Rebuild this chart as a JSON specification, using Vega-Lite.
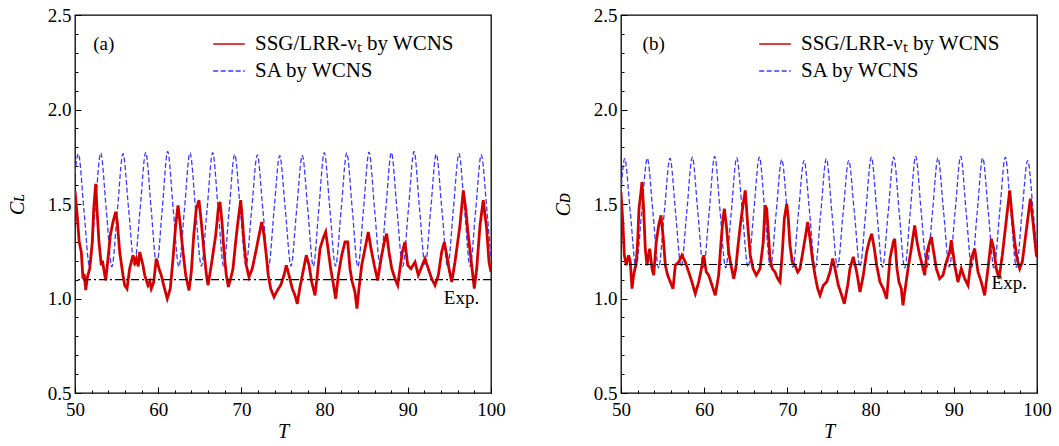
{
  "$schema": "https://vega.github.io/schema/vega-lite/v6.json",
  "background": "white",
  "padding": {"left": 6, "top": 5, "right": 5, "bottom": 0},
  "bounds": "flush",
  "spacing": 130,
  "config": {
    "view": {"stroke": "black", "strokeWidth": 1.3},
    "font": "Liberation Serif",
    "axis": {
      "domain": false, "grid": false, "tickColor": "black", "tickWidth": 1,
      "labelFont": "Liberation Serif", "labelFontSize": 19, "labelColor": "black",
      "titleFont": "Liberation Serif", "titleFontSize": 20, "titleFontWeight": "normal", "titleFontStyle": "italic", "titleColor": "black",
      "labelOverlap": false, "labelFlush": false
    },
    "legend": {
      "orient": "none", "legendX": 137, "legendY": 12, "title": null,
      "labelFont": "Liberation Serif", "labelFontSize": 21, "labelColor": "black", "labelLimit": 0,
      "symbolType": "stroke", "symbolSize": 1000, "symbolStrokeWidth": 1.5, "rowPadding": -12, "labelOffset": 9
    }
  },
  "resolve": {"legend": {"color": "independent", "strokeDash": "independent"}},
  "datasets": {
    "a_blue": [
      {"T":50.0,"C":1.66},{"T":50.40,"C":1.766},{"T":51.07,"C":1.47},{"T":51.75,"C":1.172},{"T":52.42,"C":1.47},
      {"T":53.09,"C":1.770},{"T":53.76,"C":1.47},{"T":54.43,"C":1.168},{"T":55.10,"C":1.47},
      {"T":55.77,"C":1.766},{"T":56.45,"C":1.47},{"T":57.14,"C":1.175},{"T":57.82,"C":1.47},
      {"T":58.50,"C":1.773},{"T":59.16,"C":1.47},{"T":59.82,"C":1.172},{"T":60.48,"C":1.47},
      {"T":61.14,"C":1.778},{"T":61.81,"C":1.47},{"T":62.48,"C":1.168},{"T":63.15,"C":1.47},
      {"T":63.82,"C":1.770},{"T":64.50,"C":1.47},{"T":65.19,"C":1.172},{"T":65.87,"C":1.47},
      {"T":66.55,"C":1.772},{"T":67.21,"C":1.47},{"T":67.87,"C":1.170},{"T":68.53,"C":1.47},
      {"T":69.19,"C":1.762},{"T":69.87,"C":1.47},{"T":70.55,"C":1.175},{"T":71.23,"C":1.47},
      {"T":71.91,"C":1.760},{"T":72.58,"C":1.47},{"T":73.26,"C":1.168},{"T":73.93,"C":1.47},
      {"T":74.60,"C":1.756},{"T":75.28,"C":1.47},{"T":75.96,"C":1.172},{"T":76.64,"C":1.47},
      {"T":77.32,"C":1.756},{"T":77.98,"C":1.47},{"T":78.64,"C":1.170},{"T":79.30,"C":1.47},
      {"T":79.96,"C":1.772},{"T":80.64,"C":1.47},{"T":81.31,"C":1.172},{"T":81.99,"C":1.47},
      {"T":82.66,"C":1.770},{"T":83.33,"C":1.47},{"T":84.00,"C":1.168},{"T":84.67,"C":1.47},
      {"T":85.34,"C":1.774},{"T":86.01,"C":1.47},{"T":86.68,"C":1.172},{"T":87.35,"C":1.47},
      {"T":88.02,"C":1.772},{"T":88.70,"C":1.47},{"T":89.39,"C":1.170},{"T":90.07,"C":1.47},
      {"T":90.75,"C":1.778},{"T":91.42,"C":1.47},{"T":92.09,"C":1.175},{"T":92.75,"C":1.47},
      {"T":93.42,"C":1.764},{"T":94.10,"C":1.47},{"T":94.79,"C":1.168},{"T":95.47,"C":1.47},
      {"T":96.15,"C":1.766},{"T":96.82,"C":1.47},{"T":97.49,"C":1.172},{"T":98.16,"C":1.47},
      {"T":98.83,"C":1.760},{"T":99.50,"C":1.47},{"T":100.0,"C":1.21}
    ],
    "b_blue": [
      {"T":50.0,"C":1.56},{"T":50.44,"C":1.740},{"T":51.12,"C":1.455},{"T":51.80,"C":1.165},{"T":52.48,"C":1.455},
      {"T":53.16,"C":1.742},{"T":53.84,"C":1.455},{"T":54.52,"C":1.162},{"T":55.20,"C":1.455},
      {"T":55.89,"C":1.742},{"T":56.56,"C":1.455},{"T":57.23,"C":1.168},{"T":57.90,"C":1.455},
      {"T":58.57,"C":1.748},{"T":59.24,"C":1.455},{"T":59.91,"C":1.165},{"T":60.59,"C":1.455},
      {"T":61.26,"C":1.752},{"T":61.92,"C":1.455},{"T":62.58,"C":1.162},{"T":63.25,"C":1.455},
      {"T":63.91,"C":1.744},{"T":64.59,"C":1.455},{"T":65.27,"C":1.165},{"T":65.95,"C":1.455},
      {"T":66.63,"C":1.748},{"T":67.30,"C":1.455},{"T":67.97,"C":1.168},{"T":68.65,"C":1.455},
      {"T":69.32,"C":1.736},{"T":69.99,"C":1.455},{"T":70.66,"C":1.165},{"T":71.33,"C":1.455},
      {"T":72.00,"C":1.730},{"T":72.67,"C":1.455},{"T":73.34,"C":1.162},{"T":74.01,"C":1.455},
      {"T":74.68,"C":1.740},{"T":75.35,"C":1.455},{"T":76.02,"C":1.165},{"T":76.70,"C":1.455},
      {"T":77.37,"C":1.730},{"T":78.05,"C":1.455},{"T":78.73,"C":1.168},{"T":79.41,"C":1.455},
      {"T":80.09,"C":1.748},{"T":80.76,"C":1.455},{"T":81.43,"C":1.165},{"T":82.11,"C":1.455},
      {"T":82.78,"C":1.748},{"T":83.44,"C":1.455},{"T":84.10,"C":1.162},{"T":84.76,"C":1.455},
      {"T":85.42,"C":1.752},{"T":86.09,"C":1.455},{"T":86.76,"C":1.165},{"T":87.43,"C":1.455},
      {"T":88.10,"C":1.744},{"T":88.78,"C":1.455},{"T":89.46,"C":1.168},{"T":90.15,"C":1.455},
      {"T":90.83,"C":1.752},{"T":91.49,"C":1.455},{"T":92.15,"C":1.165},{"T":92.81,"C":1.455},
      {"T":93.47,"C":1.744},{"T":94.15,"C":1.455},{"T":94.83,"C":1.162},{"T":95.51,"C":1.455},
      {"T":96.19,"C":1.748},{"T":96.86,"C":1.455},{"T":97.53,"C":1.165},{"T":98.20,"C":1.455},
      {"T":98.88,"C":1.730},{"T":99.55,"C":1.455},{"T":100.0,"C":1.25}
    ],
    "a_red": [
      {"T":50.0,"C":1.57},{"T":50.3,"C":1.42},{"T":50.5,"C":1.3},{"T":50.76,"C":1.246},{"T":50.96,"C":1.105},{"T":51.1,"C":1.13},{"T":51.29,"C":1.045},{"T":51.5,"C":1.114},{"T":51.77,"C":1.158},{"T":52.08,"C":1.299},{"T":52.25,"C":1.475},{"T":52.49,"C":1.607},{"T":52.64,"C":1.475},{"T":52.88,"C":1.299},{"T":53.16,"C":1.176},{"T":53.3,"C":1.2},{"T":53.45,"C":1.158},{"T":53.69,"C":1.096},{"T":53.97,"C":1.211},{"T":54.24,"C":1.334},{"T":54.57,"C":1.405},{"T":54.89,"C":1.458},{"T":55.08,"C":1.405},{"T":55.37,"C":1.246},{"T":55.77,"C":1.123},{"T":55.97,"C":1.07},{"T":56.25,"C":1.052},{"T":56.57,"C":1.158},{"T":56.97,"C":1.229},{"T":57.2,"C":1.19},{"T":57.37,"C":1.211},{"T":57.6,"C":1.17},{"T":57.78,"C":1.246},{"T":58.17,"C":1.176},{"T":58.38,"C":1.123},{"T":58.77,"C":1.07},{"T":59.0,"C":1.09},{"T":59.17,"C":1.052},{"T":59.46,"C":1.087},{"T":59.77,"C":1.211},{"T":60.10,"C":1.158},{"T":60.37,"C":1.123},{"T":60.66,"C":1.07},{"T":60.9,"C":1.03},{"T":61.09,"C":0.999},{"T":61.45,"C":1.052},{"T":61.78,"C":1.211},{"T":62.10,"C":1.387},{"T":62.38,"C":1.493},{"T":62.66,"C":1.387},{"T":62.98,"C":1.246},{"T":63.31,"C":1.123},{"T":63.70,"C":1.043},{"T":63.98,"C":1.14},{"T":64.27,"C":1.334},{"T":64.58,"C":1.475},{"T":64.90,"C":1.52},{"T":65.18,"C":1.405},{"T":65.47,"C":1.264},{"T":65.78,"C":1.131},{"T":65.99,"C":1.07},{"T":66.38,"C":1.176},{"T":66.91,"C":1.334},{"T":67.22,"C":1.475},{"T":67.43,"C":1.511},{"T":67.70,"C":1.387},{"T":67.91,"C":1.246},{"T":68.19,"C":1.123},{"T":68.43,"C":1.061},{"T":68.71,"C":1.105},{"T":68.99,"C":1.158},{"T":69.31,"C":1.299},{"T":69.63,"C":1.422},{"T":69.92,"C":1.52},{"T":70.11,"C":1.422},{"T":70.31,"C":1.299},{"T":70.59,"C":1.176},{"T":70.91,"C":1.114},{"T":71.31,"C":1.158},{"T":71.72,"C":1.246},{"T":72.12,"C":1.334},{"T":72.44,"C":1.405},{"T":72.72,"C":1.334},{"T":72.99,"C":1.229},{"T":73.23,"C":1.123},{"T":73.52,"C":1.052},{"T":73.92,"C":1.008},{"T":74.32,"C":1.043},{"T":74.72,"C":1.07},{"T":75.12,"C":1.123},{"T":75.40,"C":1.176},{"T":75.72,"C":1.123},{"T":76.12,"C":1.052},{"T":76.44,"C":1.017},{"T":76.72,"C":0.972},{"T":77.01,"C":1.052},{"T":77.40,"C":1.14},{"T":77.80,"C":1.229},{"T":78.13,"C":1.176},{"T":78.45,"C":1.087},{"T":78.85,"C":1.017},{"T":79.12,"C":1.123},{"T":79.45,"C":1.264},{"T":79.81,"C":1.316},{"T":80.13,"C":1.352},{"T":80.41,"C":1.264},{"T":80.73,"C":1.158},{"T":81.01,"C":1.087},{"T":81.33,"C":0.999},{"T":81.65,"C":1.123},{"T":82.06,"C":1.229},{"T":82.45,"C":1.299},{"T":82.78,"C":1.299},{"T":83.05,"C":1.158},{"T":83.33,"C":1.087},{"T":83.65,"C":1.034},{"T":83.89,"C":0.946},{"T":84.13,"C":1.052},{"T":84.46,"C":1.176},{"T":84.86,"C":1.264},{"T":85.25,"C":1.352},{"T":85.58,"C":1.264},{"T":85.97,"C":1.176},{"T":86.38,"C":1.096},{"T":86.78,"C":1.211},{"T":87.18,"C":1.299},{"T":87.46,"C":1.343},{"T":87.74,"C":1.246},{"T":88.07,"C":1.158},{"T":88.46,"C":1.105},{"T":88.79,"C":1.07},{"T":89.06,"C":1.158},{"T":89.34,"C":1.246},{"T":89.66,"C":1.299},{"T":89.99,"C":1.176},{"T":90.38,"C":1.158},{"T":90.87,"C":1.193},{"T":91.26,"C":1.123},{"T":91.74,"C":1.176},{"T":92.07,"C":1.211},{"T":92.46,"C":1.158},{"T":92.87,"C":1.105},{"T":93.27,"C":1.07},{"T":93.67,"C":1.123},{"T":94.07,"C":1.246},{"T":94.39,"C":1.299},{"T":94.68,"C":1.229},{"T":94.95,"C":1.158},{"T":95.28,"C":1.087},{"T":95.67,"C":1.193},{"T":96.27,"C":1.387},{"T":96.67,"C":1.572},{"T":96.96,"C":1.475},{"T":97.27,"C":1.334},{"T":97.68,"C":1.176},{"T":97.99,"C":1.052},{"T":98.28,"C":1.158},{"T":98.68,"C":1.387},{"T":99.07,"C":1.52},{"T":99.48,"C":1.369},{"T":99.76,"C":1.193},{"T":100.0,"C":1.14}
    ],
    "b_red": [
      {"T":50.0,"C":1.563},{"T":50.24,"C":1.387},{"T":50.4,"C":1.229},{"T":50.64,"C":1.176},{"T":50.92,"C":1.229},{"T":51.12,"C":1.193},{"T":51.32,"C":1.052},{"T":51.52,"C":1.123},{"T":51.84,"C":1.193},{"T":52.0,"C":1.299},{"T":52.16,"C":1.475},{"T":52.4,"C":1.563},{"T":52.52,"C":1.616},{"T":52.72,"C":1.475},{"T":52.92,"C":1.264},{"T":53.12,"C":1.176},{"T":53.45,"C":1.264},{"T":53.73,"C":1.158},{"T":53.93,"C":1.123},{"T":54.24,"C":1.299},{"T":54.53,"C":1.387},{"T":54.81,"C":1.44},{"T":55.05,"C":1.334},{"T":55.33,"C":1.176},{"T":55.61,"C":1.123},{"T":55.93,"C":1.087},{"T":56.25,"C":1.052},{"T":56.53,"C":1.176},{"T":56.94,"C":1.193},{"T":57.33,"C":1.229},{"T":57.73,"C":1.193},{"T":58.14,"C":1.14},{"T":58.53,"C":1.087},{"T":58.93,"C":1.025},{"T":59.34,"C":1.087},{"T":59.74,"C":1.176},{"T":59.94,"C":1.229},{"T":60.25,"C":1.14},{"T":60.54,"C":1.123},{"T":60.94,"C":1.07},{"T":61.33,"C":1.017},{"T":61.74,"C":1.123},{"T":62.02,"C":1.299},{"T":62.26,"C":1.422},{"T":62.42,"C":1.475},{"T":62.66,"C":1.387},{"T":62.94,"C":1.246},{"T":63.22,"C":1.176},{"T":63.55,"C":1.105},{"T":63.79,"C":1.158},{"T":64.03,"C":1.264},{"T":64.34,"C":1.387},{"T":64.66,"C":1.493},{"T":64.94,"C":1.572},{"T":65.23,"C":1.387},{"T":65.54,"C":1.229},{"T":65.87,"C":1.158},{"T":66.26,"C":1.123},{"T":66.71,"C":1.158},{"T":67.10,"C":1.299},{"T":67.31,"C":1.493},{"T":67.51,"C":1.475},{"T":67.70,"C":1.352},{"T":67.91,"C":1.211},{"T":68.19,"C":1.158},{"T":68.51,"C":1.14},{"T":68.83,"C":1.105},{"T":69.11,"C":1.087},{"T":69.39,"C":1.246},{"T":69.63,"C":1.422},{"T":69.92,"C":1.502},{"T":70.11,"C":1.422},{"T":70.31,"C":1.281},{"T":70.59,"C":1.193},{"T":70.91,"C":1.176},{"T":71.24,"C":1.14},{"T":71.51,"C":1.158},{"T":71.79,"C":1.229},{"T":72.12,"C":1.316},{"T":72.44,"C":1.405},{"T":72.72,"C":1.316},{"T":73.0,"C":1.211},{"T":73.32,"C":1.123},{"T":73.64,"C":1.052},{"T":73.92,"C":1.017},{"T":74.32,"C":1.07},{"T":74.72,"C":1.087},{"T":75.12,"C":1.14},{"T":75.44,"C":1.211},{"T":75.72,"C":1.158},{"T":76.12,"C":1.07},{"T":76.53,"C":1.017},{"T":76.84,"C":0.972},{"T":77.25,"C":1.07},{"T":77.52,"C":1.158},{"T":77.92,"C":1.22},{"T":78.33,"C":1.14},{"T":78.73,"C":1.034},{"T":79.12,"C":1.123},{"T":79.53,"C":1.246},{"T":79.81,"C":1.299},{"T":80.13,"C":1.343},{"T":80.45,"C":1.264},{"T":80.73,"C":1.176},{"T":81.13,"C":1.087},{"T":81.53,"C":1.052},{"T":81.93,"C":0.999},{"T":82.33,"C":1.211},{"T":82.73,"C":1.299},{"T":82.9,"C":1.316},{"T":83.17,"C":1.158},{"T":83.41,"C":1.087},{"T":83.69,"C":1.052},{"T":83.89,"C":0.964},{"T":84.22,"C":1.07},{"T":84.5,"C":1.158},{"T":84.89,"C":1.264},{"T":85.3,"C":1.387},{"T":85.58,"C":1.299},{"T":85.9,"C":1.229},{"T":86.21,"C":1.176},{"T":86.5,"C":1.123},{"T":86.78,"C":1.246},{"T":87.1,"C":1.299},{"T":87.3,"C":1.326},{"T":87.58,"C":1.246},{"T":87.9,"C":1.158},{"T":88.3,"C":1.105},{"T":88.7,"C":1.123},{"T":89.1,"C":1.193},{"T":89.51,"C":1.246},{"T":89.7,"C":1.308},{"T":90.11,"C":1.176},{"T":90.5,"C":1.087},{"T":90.9,"C":1.158},{"T":91.31,"C":1.105},{"T":91.71,"C":1.07},{"T":92.1,"C":1.211},{"T":92.51,"C":1.264},{"T":92.91,"C":1.14},{"T":93.31,"C":1.087},{"T":93.71,"C":1.017},{"T":94.11,"C":1.158},{"T":94.51,"C":1.316},{"T":94.8,"C":1.264},{"T":95.11,"C":1.158},{"T":95.43,"C":1.105},{"T":95.83,"C":1.229},{"T":96.24,"C":1.387},{"T":96.72,"C":1.572},{"T":97.03,"C":1.422},{"T":97.32,"C":1.299},{"T":97.6,"C":1.211},{"T":97.92,"C":1.158},{"T":98.23,"C":1.193},{"T":98.64,"C":1.334},{"T":99.2,"C":1.528},{"T":99.52,"C":1.405},{"T":99.92,"C":1.229},{"T":100.0,"C":1.22}
    ]
  },
  "hconcat": [
    {
      "width": 416, "height": 378,
      "layer": [
        {
          "data": {"name": "a_blue"},
          "mark": {"type": "line", "interpolate": "monotone", "strokeWidth": 1.3, "clip": true},
          "encoding": {
            "x": {"field": "T", "type": "quantitative", "scale": {"domain": [50, 100], "nice": false},
              "axis": {"title": "T", "values": [50,52,54,56,58,60,62,64,66,68,70,72,74,76,78,80,82,84,86,88,90,92,94,96,98,100], "labelExpr": "datum.value % 10 == 0 ? datum.label : ''", "labelOverlap": false, "labelFlush": false, "tickSize": {"condition": {"test": "datum.value % 10 == 0", "value": -6}, "value": -3}, "labelPadding": 13, "titlePadding": -1}},
            "y": {"field": "C", "type": "quantitative", "scale": {"domain": [0.5, 2.5], "nice": false},
              "axis": {"title": "Cʟ", "values": [0.5,0.6,0.7,0.8,0.9,1.0,1.1,1.2,1.3,1.4,1.5,1.6,1.7,1.8,1.9,2.0,2.1,2.2,2.3,2.4,2.5], "labelExpr": "round(datum.value*10) % 5 == 0 ? format(datum.value, '.1f') : ''", "labelOverlap": false, "labelFlush": false, "tickSize": {"condition": {"test": "round(datum.value*10) % 5 == 0", "value": -6}, "value": -3}, "labelPadding": 10, "titlePadding": 20}},
            "color": {"datum": "SA by WCNS", "scale": {"domain": ["SSG/LRR-νₜ by WCNS", "SA by WCNS"], "range": ["#d40000", "#3a3aff"]},
              "legend": {"labelFont": "Liberation Serif", "labelFontSize": 21, "labelLimit": 0}},
            "strokeDash": {"datum": "SA by WCNS", "scale": {"domain": ["SSG/LRR-νₜ by WCNS", "SA by WCNS"], "range": [[1, 0], [5, 2.5]]}}
          }
        },
        {
          "data": {"name": "a_red"},
          "mark": {"type": "line", "strokeWidth": 2.8, "clip": true},
          "encoding": {
            "x": {"field": "T", "type": "quantitative", "scale": {"domain": [50, 100], "nice": false},
              "axis": {"title": "T", "values": [50,52,54,56,58,60,62,64,66,68,70,72,74,76,78,80,82,84,86,88,90,92,94,96,98,100], "labelExpr": "datum.value % 10 == 0 ? datum.label : ''", "labelOverlap": false, "labelFlush": false, "tickSize": {"condition": {"test": "datum.value % 10 == 0", "value": -6}, "value": -3}, "labelPadding": 13, "titlePadding": -1}},
            "y": {"field": "C", "type": "quantitative", "scale": {"domain": [0.5, 2.5], "nice": false},
              "axis": {"title": "Cʟ", "values": [0.5,0.6,0.7,0.8,0.9,1.0,1.1,1.2,1.3,1.4,1.5,1.6,1.7,1.8,1.9,2.0,2.1,2.2,2.3,2.4,2.5], "labelExpr": "round(datum.value*10) % 5 == 0 ? format(datum.value, '.1f') : ''", "labelOverlap": false, "labelFlush": false, "tickSize": {"condition": {"test": "round(datum.value*10) % 5 == 0", "value": -6}, "value": -3}, "labelPadding": 10, "titlePadding": 20}},
            "color": {"datum": "SSG/LRR-νₜ by WCNS"},
            "strokeDash": {"datum": "SSG/LRR-νₜ by WCNS"}
          }
        },
        {
          "data": {"values": [{}]},
          "mark": {"type": "rule", "color": "black", "strokeWidth": 1.2, "strokeDash": [8, 3, 2, 3]},
          "encoding": {
            "y": {"datum": 1.10, "type": "quantitative",
              "axis": {"title": "Cʟ", "values": [0.5,0.6,0.7,0.8,0.9,1.0,1.1,1.2,1.3,1.4,1.5,1.6,1.7,1.8,1.9,2.0,2.1,2.2,2.3,2.4,2.5], "labelExpr": "round(datum.value*10) % 5 == 0 ? format(datum.value, '.1f') : ''", "labelOverlap": false, "labelFlush": false, "tickSize": {"condition": {"test": "round(datum.value*10) % 5 == 0", "value": -6}, "value": -3}, "labelPadding": 10, "titlePadding": 20}}
          }
        },
        {
          "data": {"values": [{"t": "(a)", "u": "Exp."}]},
          "encoding": {
            "x": {"datum": 53.45, "type": "quantitative",
              "axis": {"title": "T", "values": [50,52,54,56,58,60,62,64,66,68,70,72,74,76,78,80,82,84,86,88,90,92,94,96,98,100], "labelExpr": "datum.value % 10 == 0 ? datum.label : ''", "labelOverlap": false, "labelFlush": false, "tickSize": {"condition": {"test": "datum.value % 10 == 0", "value": -6}, "value": -3}, "labelPadding": 13, "titlePadding": -1}},
            "y": {"datum": 2.347, "type": "quantitative",
              "axis": {"title": "Cʟ", "values": [0.5,0.6,0.7,0.8,0.9,1.0,1.1,1.2,1.3,1.4,1.5,1.6,1.7,1.8,1.9,2.0,2.1,2.2,2.3,2.4,2.5], "labelExpr": "round(datum.value*10) % 5 == 0 ? format(datum.value, '.1f') : ''", "labelOverlap": false, "labelFlush": false, "tickSize": {"condition": {"test": "round(datum.value*10) % 5 == 0", "value": -6}, "value": -3}, "labelPadding": 10, "titlePadding": 20}},
            "text": {"field": "t"}
          },
          "mark": {"type": "text", "font": "Liberation Serif", "fontSize": 19, "color": "black", "align": "center", "baseline": "middle"}
        },
        {
          "data": {"values": [{"t": "(a)", "u": "Exp."}]},
          "encoding": {
            "x": {"datum": 96.45, "type": "quantitative",
              "axis": {"title": "T", "values": [50,52,54,56,58,60,62,64,66,68,70,72,74,76,78,80,82,84,86,88,90,92,94,96,98,100], "labelExpr": "datum.value % 10 == 0 ? datum.label : ''", "labelOverlap": false, "labelFlush": false, "tickSize": {"condition": {"test": "datum.value % 10 == 0", "value": -6}, "value": -3}, "labelPadding": 13, "titlePadding": -1}},
            "y": {"datum": 1.005, "type": "quantitative",
              "axis": {"title": "Cʟ", "values": [0.5,0.6,0.7,0.8,0.9,1.0,1.1,1.2,1.3,1.4,1.5,1.6,1.7,1.8,1.9,2.0,2.1,2.2,2.3,2.4,2.5], "labelExpr": "round(datum.value*10) % 5 == 0 ? format(datum.value, '.1f') : ''", "labelOverlap": false, "labelFlush": false, "tickSize": {"condition": {"test": "round(datum.value*10) % 5 == 0", "value": -6}, "value": -3}, "labelPadding": 10, "titlePadding": 20}},
            "text": {"field": "u"}
          },
          "mark": {"type": "text", "font": "Liberation Serif", "fontSize": 19, "color": "black", "align": "center", "baseline": "middle"}
        }
      ]
    },
    {
      "width": 416, "height": 378,
      "layer": [
        {
          "data": {"name": "b_blue"},
          "mark": {"type": "line", "interpolate": "monotone", "strokeWidth": 1.3, "clip": true},
          "encoding": {
            "x": {"field": "T", "type": "quantitative", "scale": {"domain": [50, 100], "nice": false},
              "axis": {"title": "T", "values": [50,52,54,56,58,60,62,64,66,68,70,72,74,76,78,80,82,84,86,88,90,92,94,96,98,100], "labelExpr": "datum.value % 10 == 0 ? datum.label : ''", "labelOverlap": false, "labelFlush": false, "tickSize": {"condition": {"test": "datum.value % 10 == 0", "value": -6}, "value": -3}, "labelPadding": 13, "titlePadding": -1}},
            "y": {"field": "C", "type": "quantitative", "scale": {"domain": [0.5, 2.5], "nice": false},
              "axis": {"title": "Cᴅ", "values": [0.5,0.6,0.7,0.8,0.9,1.0,1.1,1.2,1.3,1.4,1.5,1.6,1.7,1.8,1.9,2.0,2.1,2.2,2.3,2.4,2.5], "labelExpr": "round(datum.value*10) % 5 == 0 ? format(datum.value, '.1f') : ''", "labelOverlap": false, "labelFlush": false, "tickSize": {"condition": {"test": "round(datum.value*10) % 5 == 0", "value": -6}, "value": -3}, "labelPadding": 10, "titlePadding": 20}},
            "color": {"datum": "SA by WCNS", "scale": {"domain": ["SSG/LRR-νₜ by WCNS", "SA by WCNS"], "range": ["#d40000", "#3a3aff"]},
              "legend": {"labelFont": "Liberation Serif", "labelFontSize": 21, "labelLimit": 0}},
            "strokeDash": {"datum": "SA by WCNS", "scale": {"domain": ["SSG/LRR-νₜ by WCNS", "SA by WCNS"], "range": [[1, 0], [5, 2.5]]}}
          }
        },
        {
          "data": {"name": "b_red"},
          "mark": {"type": "line", "strokeWidth": 2.8, "clip": true},
          "encoding": {
            "x": {"field": "T", "type": "quantitative", "scale": {"domain": [50, 100], "nice": false},
              "axis": {"title": "T", "values": [50,52,54,56,58,60,62,64,66,68,70,72,74,76,78,80,82,84,86,88,90,92,94,96,98,100], "labelExpr": "datum.value % 10 == 0 ? datum.label : ''", "labelOverlap": false, "labelFlush": false, "tickSize": {"condition": {"test": "datum.value % 10 == 0", "value": -6}, "value": -3}, "labelPadding": 13, "titlePadding": -1}},
            "y": {"field": "C", "type": "quantitative", "scale": {"domain": [0.5, 2.5], "nice": false},
              "axis": {"title": "Cᴅ", "values": [0.5,0.6,0.7,0.8,0.9,1.0,1.1,1.2,1.3,1.4,1.5,1.6,1.7,1.8,1.9,2.0,2.1,2.2,2.3,2.4,2.5], "labelExpr": "round(datum.value*10) % 5 == 0 ? format(datum.value, '.1f') : ''", "labelOverlap": false, "labelFlush": false, "tickSize": {"condition": {"test": "round(datum.value*10) % 5 == 0", "value": -6}, "value": -3}, "labelPadding": 10, "titlePadding": 20}},
            "color": {"datum": "SSG/LRR-νₜ by WCNS"},
            "strokeDash": {"datum": "SSG/LRR-νₜ by WCNS"}
          }
        },
        {
          "data": {"values": [{}]},
          "mark": {"type": "rule", "color": "black", "strokeWidth": 1.2, "strokeDash": [8, 3, 2, 3]},
          "encoding": {
            "y": {"datum": 1.18, "type": "quantitative",
              "axis": {"title": "Cᴅ", "values": [0.5,0.6,0.7,0.8,0.9,1.0,1.1,1.2,1.3,1.4,1.5,1.6,1.7,1.8,1.9,2.0,2.1,2.2,2.3,2.4,2.5], "labelExpr": "round(datum.value*10) % 5 == 0 ? format(datum.value, '.1f') : ''", "labelOverlap": false, "labelFlush": false, "tickSize": {"condition": {"test": "round(datum.value*10) % 5 == 0", "value": -6}, "value": -3}, "labelPadding": 10, "titlePadding": 20}}
          }
        },
        {
          "data": {"values": [{"t": "(b)", "u": "Exp."}]},
          "encoding": {
            "x": {"datum": 53.93, "type": "quantitative",
              "axis": {"title": "T", "values": [50,52,54,56,58,60,62,64,66,68,70,72,74,76,78,80,82,84,86,88,90,92,94,96,98,100], "labelExpr": "datum.value % 10 == 0 ? datum.label : ''", "labelOverlap": false, "labelFlush": false, "tickSize": {"condition": {"test": "datum.value % 10 == 0", "value": -6}, "value": -3}, "labelPadding": 13, "titlePadding": -1}},
            "y": {"datum": 2.347, "type": "quantitative",
              "axis": {"title": "Cᴅ", "values": [0.5,0.6,0.7,0.8,0.9,1.0,1.1,1.2,1.3,1.4,1.5,1.6,1.7,1.8,1.9,2.0,2.1,2.2,2.3,2.4,2.5], "labelExpr": "round(datum.value*10) % 5 == 0 ? format(datum.value, '.1f') : ''", "labelOverlap": false, "labelFlush": false, "tickSize": {"condition": {"test": "round(datum.value*10) % 5 == 0", "value": -6}, "value": -3}, "labelPadding": 10, "titlePadding": 20}},
            "text": {"field": "t"}
          },
          "mark": {"type": "text", "font": "Liberation Serif", "fontSize": 19, "color": "black", "align": "center", "baseline": "middle"}
        },
        {
          "data": {"values": [{"t": "(b)", "u": "Exp."}]},
          "encoding": {
            "x": {"datum": 96.67, "type": "quantitative",
              "axis": {"title": "T", "values": [50,52,54,56,58,60,62,64,66,68,70,72,74,76,78,80,82,84,86,88,90,92,94,96,98,100], "labelExpr": "datum.value % 10 == 0 ? datum.label : ''", "labelOverlap": false, "labelFlush": false, "tickSize": {"condition": {"test": "datum.value % 10 == 0", "value": -6}, "value": -3}, "labelPadding": 13, "titlePadding": -1}},
            "y": {"datum": 1.084, "type": "quantitative",
              "axis": {"title": "Cᴅ", "values": [0.5,0.6,0.7,0.8,0.9,1.0,1.1,1.2,1.3,1.4,1.5,1.6,1.7,1.8,1.9,2.0,2.1,2.2,2.3,2.4,2.5], "labelExpr": "round(datum.value*10) % 5 == 0 ? format(datum.value, '.1f') : ''", "labelOverlap": false, "labelFlush": false, "tickSize": {"condition": {"test": "round(datum.value*10) % 5 == 0", "value": -6}, "value": -3}, "labelPadding": 10, "titlePadding": 20}},
            "text": {"field": "u"}
          },
          "mark": {"type": "text", "font": "Liberation Serif", "fontSize": 19, "color": "black", "align": "center", "baseline": "middle"}
        }
      ]
    }
  ]
}
